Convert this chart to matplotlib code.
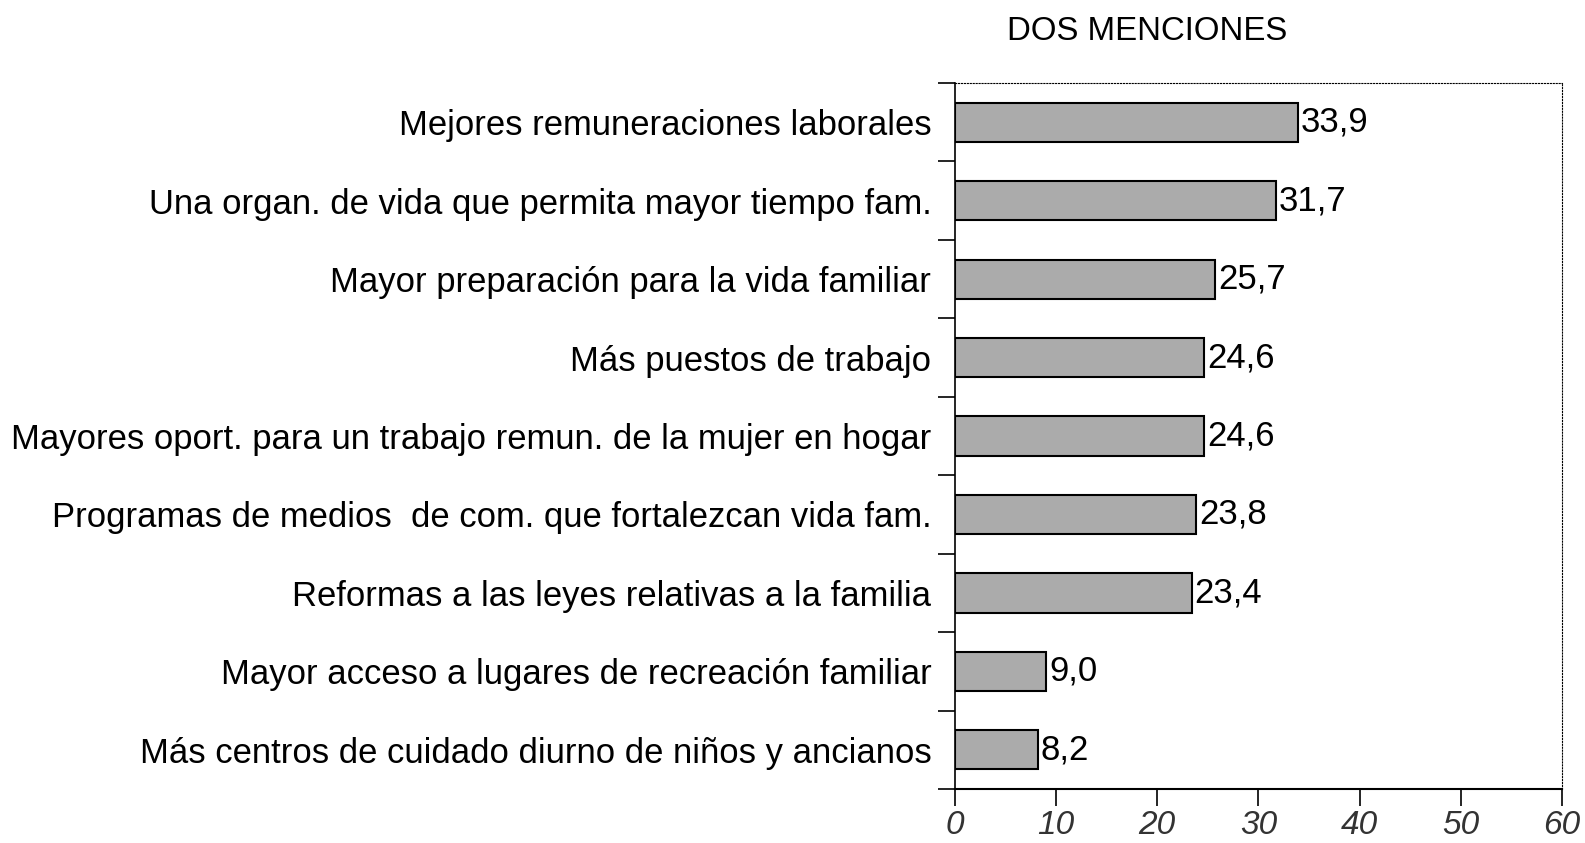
import numpy as np
import matplotlib
matplotlib.use('Agg')
import matplotlib.pyplot as plt

plt.rcParams['font.family'] = ['Liberation Sans', 'DejaVu Sans']

categorias = [
    "Mejores remuneraciones laborales",
    "Una organ. de vida que permita mayor tiempo fam.",
    "Mayor preparación para la vida familiar",
    "Más puestos de trabajo",
    "Mayores oport. para un trabajo remun. de la mujer en hogar",
    "Programas de medios  de com. que fortalezcan vida fam.",
    "Reformas a las leyes relativas a la familia",
    "Mayor acceso a lugares de recreación familiar",
    "Más centros de cuidado diurno de niños y ancianos",
]
valores = [33.9, 31.7, 25.7, 24.6, 24.6, 23.8, 23.4, 9.0, 8.2]
x_ticks = [0, 10, 20, 30, 40, 50, 60]

fig = plt.figure(figsize=(15.85, 8.43), dpi=100)
ax = fig.add_axes([0.6025, 0.064, 0.383, 0.8375])

y = np.arange(len(categorias))
ax.barh(y, valores, height=0.5, color='#ababab', edgecolor='black', linewidth=1.5)

for yi, v in zip(y, valores):
    ax.text(v + 0.3, yi, f"{v:.1f}".replace('.', ','), va='center', ha='left', fontsize=25)

ax.set_ylim(len(categorias) - 0.5, -0.5)
ax.set_xlim(0, 60)

# etiquetas en el centro, marcas en los limites
ax.set_yticks(np.arange(len(categorias) + 1) - 0.5)
ax.set_yticklabels([])
ax.set_yticks(y, minor=True)
ax.set_yticklabels(categorias, minor=True, fontsize=24.9)
ax.tick_params(axis='y', which='major', length=12, width=1.2)
ax.tick_params(axis='y', which='minor', length=0, pad=17)

ax.set_xticks(x_ticks)
ax.set_xticklabels([str(t) for t in x_ticks], fontsize=24, style='italic', color='#333333')
ax.tick_params(axis='x', length=12, width=1.2, direction='out', pad=3)

ax.spines['top'].set_linestyle(':')
ax.spines['right'].set_linestyle(':')
ax.spines['left'].set_linewidth(1.2)
ax.spines['bottom'].set_linewidth(1.5)

fig.text(0.7235, 0.963, "DOS MENCIONES", ha='center', va='center', fontsize=23.8)

fig.savefig('out.png', dpi=100)
